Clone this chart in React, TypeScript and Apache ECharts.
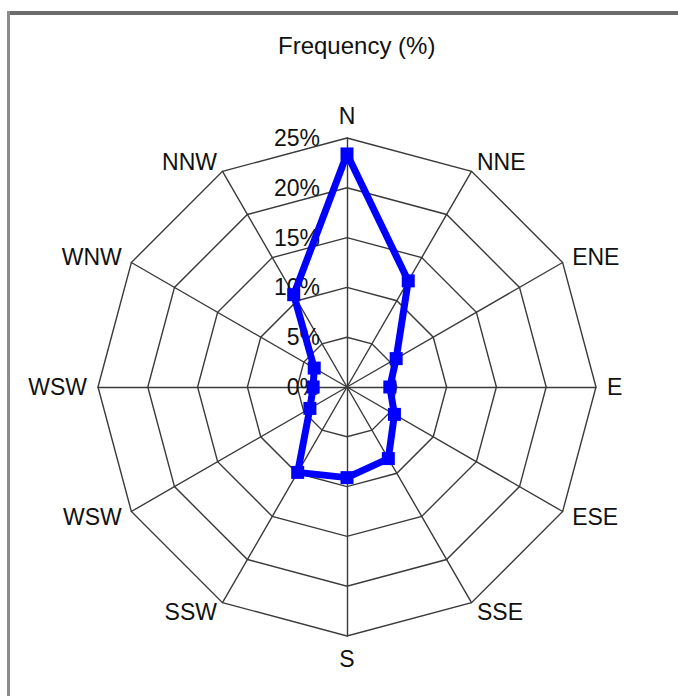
import React, { useEffect, useRef } from "react";
import * as echarts from "echarts";

// Directions listed clockwise from north, as labelled on the chart
const directions = ["N", "NNE", "ENE", "E", "ESE", "SSE", "S", "SSW", "WSW", "WSW", "WNW", "NNW"];
// Frequency (%) per direction, clockwise from north
const frequencies = [23.4, 12.3, 5.7, 4.3, 5.5, 8.3, 9.1, 9.9, 4.3, 3.4, 3.8, 10.7];
const axisMax = 25;
const axisSplits = 5;
const titleText = "Frequency (%)";

const FONT = "'Liberation Sans', Arial, sans-serif";

export default function App() {
  const ref = useRef<HTMLDivElement>(null);

  useEffect(() => {
    if (!ref.current) return;
    const chart = echarts.init(ref.current, undefined, { renderer: "svg" });

    // ECharts radar places indicators counter-clockwise: reorder
    const order = [0, ...directions.map((_, i) => i).slice(1).reverse()];
    const indicator = order.map((i, k) => ({
      name: directions[i],
      max: axisMax,
      min: 0,
      ...(k === 0
        ? {
            axisLabel: {
              show: true,
              margin: 27,
              fontSize: 23,
              fontFamily: FONT,
              color: "#111",
              formatter: (v: number) => `${v}%`,
            },
          }
        : {}),
    }));
    const values = order.map((i) => frequencies[i]);

    chart.setOption({
      animation: false,
      backgroundColor: "#ffffff",
      title: {
        text: titleText,
        left: 278,
        top: 33,
        padding: 0,
        textStyle: {
          fontSize: 24,
          fontWeight: "normal",
          fontFamily: FONT,
          color: "#111",
        },
      },
      graphic: [
        { type: "rect", shape: { x: 7, y: 11, width: 671, height: 4 }, style: { fill: "#6c6c6c" }, z: 10 },
        { type: "rect", shape: { x: 7, y: 11, width: 3, height: 685 }, style: { fill: "#8c8c8c" }, z: 10 },
      ],
      radar: {
        center: [347, 387],
        radius: 249,
        startAngle: 90,
        shape: "polygon",
        splitNumber: axisSplits,
        nameGap: 11,
        axisName: {
          color: "#111",
          fontSize: 23,
          fontFamily: FONT,
        },
        axisLine: { lineStyle: { color: "#3a3a3a", width: 1.4 } },
        splitLine: { lineStyle: { color: "#3a3a3a", width: 1.4 } },
        splitArea: { show: false },
        axisTick: { show: false },
        axisLabel: { show: false },
        indicator,
      },
      series: [
        {
          type: "radar",
          symbol: "rect",
          symbolSize: 13,
          lineStyle: { color: "#0000ff", width: 7 },
          itemStyle: { color: "#0000ff" },
          data: [{ value: values, name: "Frequency" }],
        },
      ],
    });

    return () => chart.dispose();
  }, []);

  return (
    <div
      ref={ref}
      style={{ position: "fixed", left: 0, top: 0, width: 678, height: 696 }}
    />
  );
}
